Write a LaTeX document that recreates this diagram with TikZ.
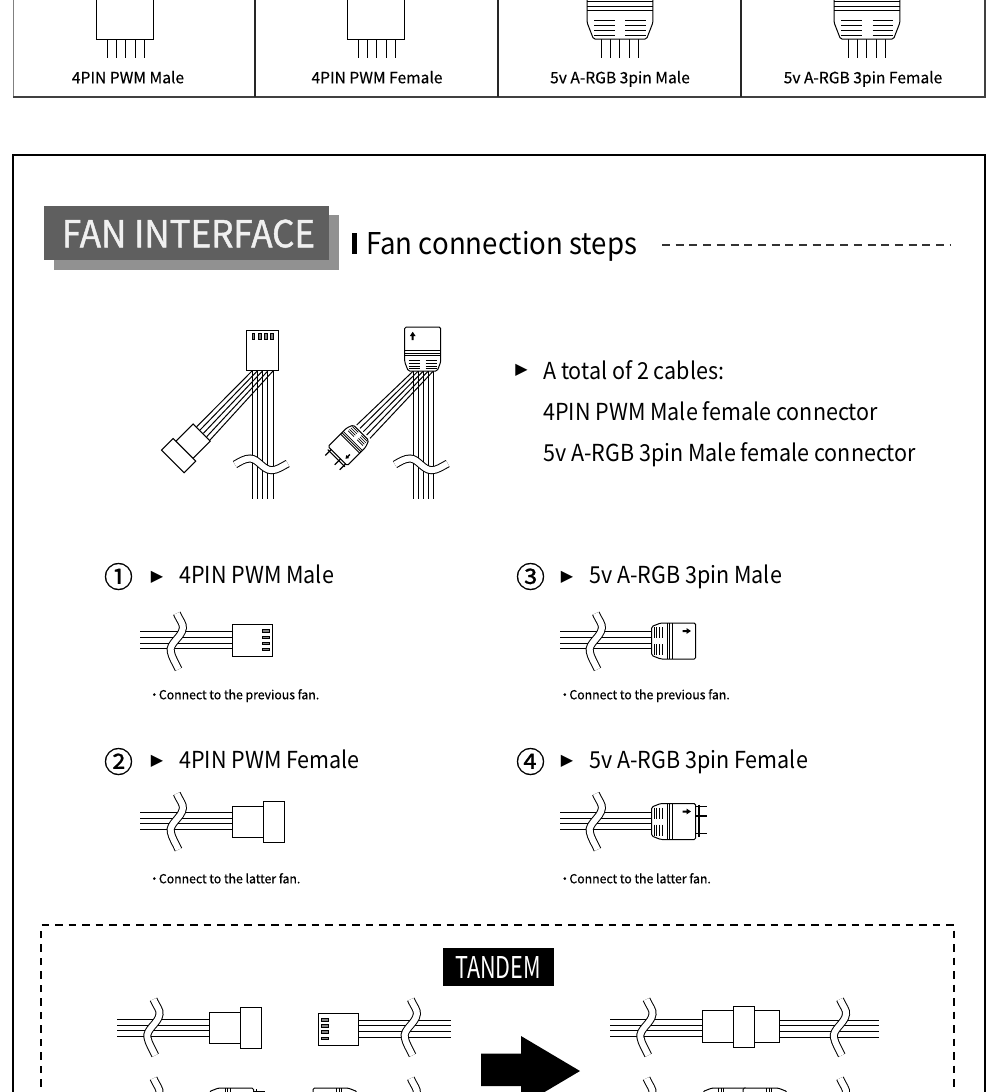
\documentclass[tikz,border=0pt]{standalone}
\usepackage{fontspec}
\setmainfont{Noto Sans CJK SC}
\newfontfamily\medfont[FakeBold=0.35]{Noto Sans CJK SC}
\newfontfamily\notefont[FakeBold=0.6,FakeStretch=0.98]{Noto Sans CJK SC}
\newfontfamily\numfont[FakeBold=0.6]{Noto Sans CJK SC}
\newfontfamily\narrowfont[FakeStretch=0.92]{Noto Sans CJK SC}
\newfontfamily\headfont[FakeStretch=0.94,FakeBold=1.2]{Noto Sans CJK SC}
\newfontfamily\tandemfont[FakeStretch=0.72]{Noto Sans CJK SC}
\newfontfamily\symfont{DejaVu Sans}
\usepackage{tikz}
\usetikzlibrary{arrows.meta,positioning}
\usepackage{xcolor}
\definecolor{cPanel}{RGB}{95,95,95}
\definecolor{cShadow}{RGB}{145,145,145}
\definecolor{cHead}{RGB}{240,240,240}
\definecolor{cSlot}{RGB}{130,130,130}
\tikzset{
  wire/.style={line width=1pt,color=black},
  rim/.style={line width=1pt,draw=black,fill=white},
  tablelbl/.style={anchor=base,font=\medfont\fontsize{15.6}{18}\selectfont,inner sep=0pt},
  noticelbl/.style={anchor=base west,font=\notefont\fontsize{12.5}{15}\selectfont,inner sep=0pt},
  biglbl/.style={anchor=base west,font=\narrowfont\fontsize{23.4}{28}\selectfont,inner sep=0pt},
  numlbl/.style={font=\numfont\fontsize{29}{32}\selectfont,inner sep=0pt},
  tri/.style={font=\symfont\fontsize{16}{18}\selectfont,inner sep=0pt},
  % break mark across a bundle, as a white band with two edges
  vbreak/.pic={
    \draw[line width=1pt,double=white,double distance=6pt]
      (3.5,0) .. controls (6.5,7) and (10.5,11) .. (9.5,15)
      .. controls (8.5,24) and (-4.5,30) .. (-2.5,38.4)
      .. controls (-1.5,44) and (2.5,50) .. (5.2,56);
  },
  hbreak/.pic={
    \draw[line width=1pt,double=white,double distance=6pt]
      (0,0) .. controls (5,-3) and (10,-6) .. (15,-6)
      .. controls (23,-6) and (28,5.7) .. (36.7,5.7)
      .. controls (42,5.7) and (47,2) .. (52.7,-1);
  },
  % 4 pin plug, wire end at the origin, pointing along +x
  pwmplug/.pic={
    \draw[rim] (0,-16) rectangle (40,16);
    \foreach \s in {-9.3,-3,3,9}
      \draw[line width=0.6pt,fill=cSlot] (30.4,\s-1.3) rectangle (37,\s+1.3);
  },
  pwmcap/.pic={
    \draw[rim] (0,-15.5) rectangle (31.4,15.5);
    \draw[rim] (31.4,-20.5) rectangle (52.4,20.5);
  },
  % 3 pin plug, same convention
  rgbplug/.pic={
    \draw[rim,rounded corners=1.5pt] (0,-14.5) -- (9,-18) -- (44,-18) -- (44,18)
      -- (9,18) -- (0,14.5) -- cycle;
    \foreach \s in {15.5,18,20.5}
      \draw[line width=0.8pt] (\s,-18) -- (\s,18);
    \foreach \s in {2.2,5,7.6,10.4}
      \draw[line width=0.7pt] (\s,-14) -- (\s,-3) (\s,3) -- (\s,14);
    \fill (31,-11) -- ++(4,0) -- ++(0,-1.8) -- ++(4.2,2.8) -- ++(-4.2,2.8)
      -- ++(0,-1.8) -- ++(-4,0) -- cycle;
  },
  rgbpins/.pic={
    \draw[line width=1.2pt] (47.3,-17) -- (47.3,15.5);
    \foreach \s in {-14.8,-5.5,12.2}
      \draw[line width=1.2pt] (44,\s) -- (55,\s);
  }
}
\newcommand{\cable}[3]{%
  \foreach \s in {0,5.7,11.4,17}
    \draw[wire] (#1,#3+\s) -- (#2,#3+\s);}

\begin{document}
\begin{tikzpicture}[x=1pt,y=-1pt]
  \useasboundingbox (0,0) rectangle (1000,1092);
  \clip (0,0) rectangle (1000,1092);
  \fill[white] (0,0) rectangle (1000,1092);

  % table of plug types
  \draw[line width=1pt,color=gray] (13,-5) -- (13,97);
  \draw[line width=1.5pt,color=black!75] (13,97) -- (985,97);
  \draw[line width=1.5pt,color=black!75] (985,-5) -- (985,98);
  \foreach \x in {255,498,741}
    \draw[line width=1.2pt,color=black!85] (\x,-5) -- (\x,97);
  \foreach \x in {107,116.3,125.7,135,144.3,358,367.3,376.7,386,395.3,
                  601,610.2,619.6,629,638.2,848,857.3,866.7,876,885.5}
    \draw[wire] (\x,39) -- (\x,58);
  \pic[rotate=90,scale=1.8] at (125,39) {pwmplug};
  \pic[rotate=90,scale=1.87] at (376,39) {pwmcap};
  \pic[rotate=90,scale=1.83] at (620,39) {rgbplug};
  \pic[rotate=90,scale=1.83] at (867,39) {rgbplug};
  \node[tablelbl] (tabA) at (128,83.3) {4PIN PWM Male};
  \node[tablelbl] (tabB) at (377,83.3) {4PIN PWM Female};
  \node[tablelbl] (tabC) at (620,83.3) {5v A-RGB 3pin Male};
  \node[tablelbl] (tabD) at (863,83.3) {5v A-RGB 3pin Female};

  % main frame
  \draw[line width=1.5pt] (13,1100) -- (13,155) -- (985,155) -- (985,1100);

  % heading
  \fill[cShadow] (54,215) rectangle (339,269.5);
  \fill[cPanel] (44,206) rectangle (329,260);
  \node[anchor=base,text=cHead,inner sep=0pt,
        font=\headfont\fontsize{37.2}{40}\selectfont] (head) at (188.5,247.3)
      {FAN INTERFACE};
  \fill (352,233) rectangle (357,254);
  \node[anchor=base west,inner sep=0pt,font=\narrowfont\fontsize{30}{34}\selectfont] (steps)
      at (366,254) {Fan connection steps};
  \draw[line width=1.4pt,dash pattern=on 8pt off 5.7pt,color=black!80] (662,245) -- (950,245);

  % overview: 4 pin
  \foreach \i in {0,...,4}
    \draw[wire] (252+5.25*\i,370) -- (252+5.25*\i,499);
  \foreach \i in {0,...,4}
    \draw[wire] (252+5.25*\i,371) -- (196.7+3.33*\i,426.7+3.33*\i);
  \pic[rotate=90] at (262.5,370) {pwmplug};
  \pic[rotate=225,scale=0.78] at (201.7,432.5) {pwmcap};
  \pic at (235,464.5) {hbreak};

  % overview: 3 pin
  \foreach \i in {0,...,4}
    \draw[wire] (413.3+5*\i,370) -- (413.3+5*\i,499);
  \foreach \i in {0,...,4}
    \draw[wire] (413.3+5*\i,371) -- (356.7+3.33*\i,425+3.33*\i);
  \pic[rotate=90] at (422.7,371) {rgbplug};
  \pic[rotate=225,scale=0.75] at (361,432.7) {rgbplug};
  \pic[rotate=225,scale=0.75] at (361,432.7) {rgbpins};
  \pic at (395,464.5) {hbreak};

  % cable list
  \node[tri] (listmark) at (521.5,370) {▶};
  \node[biglbl] (listA) at (543,379) {A total of 2 cables:};
  \node[biglbl] (listB) at (543,420) {4PIN PWM Male female connector};
  \node[biglbl] (listC) at (543,461) {5v A-RGB 3pin Male female connector};

  % step 1
  \node[numlbl] (numA) at (118.5,576.5) {①};
  \node[tri] (markA) at (157,577) {▶};
  \node[biglbl] (stepA) at (179,583.6) {4PIN PWM Male};
  \cable{140}{232.3}{631.7}
  \pic at (173.3,613.3) {vbreak};
  \pic at (232.3,640.3) {pwmplug};
  \node[noticelbl] (noteA) at (148,699.3) {·\kern-1.5pt Connect to the previous fan.};

  % step 2
  \node[numlbl] (numB) at (118.5,761.5) {②};
  \node[tri] (markB) at (157,761) {▶};
  \node[biglbl] (stepB) at (179,768.3) {4PIN PWM Female};
  \cable{140}{232.3}{812.3}
  \pic at (173.3,793.6) {vbreak};
  \pic at (232.3,821.8) {pwmcap};
  \node[noticelbl] (noteB) at (148,883.3) {·\kern-1.5pt Connect to the latter fan.};

  % step 3
  \node[numlbl] (numC) at (530.5,576.5) {③};
  \node[tri] (markC) at (567,577) {▶};
  \node[biglbl] (stepC) at (589,583.6) {5v A-RGB 3pin Male};
  \cable{560}{651.7}{631.7}
  \pic at (592.3,613.3) {vbreak};
  \pic at (651.7,641) {rgbplug};
  \node[noticelbl] (noteC) at (558.5,699.3) {·\kern-1.5pt Connect to the previous fan.};

  % step 4
  \node[numlbl] (numD) at (530.5,761.5) {④};
  \node[tri] (markD) at (567,761) {▶};
  \node[biglbl] (stepD) at (589,768.3) {5v A-RGB 3pin Female};
  \cable{560}{651.7}{812.3}
  \pic at (592.3,793.6) {vbreak};
  \pic at (651.7,821.5) {rgbplug};
  \pic at (651.7,821.5) {rgbpins};
  \node[noticelbl] (noteD) at (558.5,883.3) {·\kern-1.5pt Connect to the latter fan.};

  % tandem panel
  \draw[line width=1.4pt,dash pattern=on 7.5pt off 6pt] (41,1100) -- (41,925) -- (954,925) -- (954,1100);
  \fill (442.5,947.7) rectangle (553.5,985.7);
  \node[anchor=base,text=white,inner sep=0pt,
        font=\tandemfont\fontsize{30}{32}\selectfont] (tandem) at (498,978.3) {TANDEM};

  % before: 4 pin
  \cable{117.3}{209.3}{1019.3}
  \pic at (150,999.3) {vbreak};
  \pic at (209.3,1028) {pwmcap};
  \cable{358.3}{450.7}{1020}
  \pic at (407.3,999.3) {vbreak};
  \pic[rotate=180] at (358.3,1029) {pwmplug};

  % before: 3 pin
  \cable{117.3}{209.3}{1098.3}
  \pic at (150,1078.3) {vbreak};
  \pic at (209.5,1106) {rgbplug};
  \pic at (209.5,1106) {rgbpins};
  \cable{358.3}{450.7}{1099}
  \pic at (407.3,1078.3) {vbreak};
  \pic[rotate=180] at (357,1106) {rgbplug};

  % arrow
  \fill (481,1053.5) -- (521,1053.5) -- (521,1036) -- (580,1071) -- (521,1106)
    -- (521,1086) -- (481,1086) -- cycle;

  % after: 4 pin
  \cable{610}{702.4}{1019.3}
  \pic at (643,999.3) {vbreak};
  \cable{779}{878.8}{1020}
  \pic at (836.5,999.3) {vbreak};
  \draw[rim] (702.4,1010.7) rectangle (779,1042.7);
  \draw[rim] (733.5,1006.7) rectangle (754.5,1047.3);

  % after: 3 pin
  \cable{610}{702.4}{1098.3}
  \pic at (643,1078.3) {vbreak};
  \cable{787}{878.8}{1099}
  \pic at (836.5,1078.3) {vbreak};
  \pic at (703,1106) {rgbplug};
  \pic[rotate=180] at (787,1106) {rgbplug};
\end{tikzpicture}
\end{document}
